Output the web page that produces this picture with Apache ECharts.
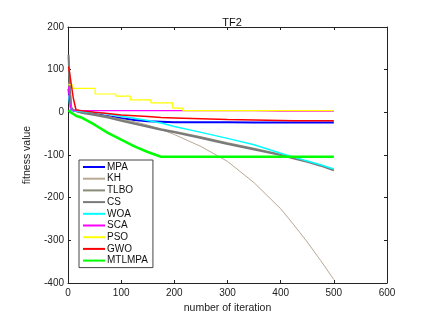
<!DOCTYPE html>
<html>
<head>
<meta charset="utf-8">
<script src="https://cdn.jsdelivr.net/npm/echarts@6/dist/echarts.min.js"></script>
<style>
  html, body { margin: 0; padding: 0; background: #fff; }
  #chart { width: 441px; height: 336px; }
</style>
</head>
<body>
<div id="chart"></div>
<script>
// iteration samples shared by the smooth curves
const iters = [1, 3, 6, 10, 15, 25, 50, 75, 100, 125, 150, 175, 200, 250, 300, 350, 400, 425, 450, 475, 500]

const mpa = [55, 30, 6, 4, 3, 1, -4, -9, -14, -18, -21, -22, -23, -23, -23, -24, -24, -24, -24, -24, -24]
const kh = [70, 30, 8, 5, 3, 1, -5, -10, -16, -22, -30, -40, -52, -80, -115, -165, -226, -264, -304, -347, -392]
const tlbo = [130, 60, 10, 5, 3, 0, -4, -10, -18, -25, -32, -39, -45, -58, -72, -85, -99, -107, -115, -124, -135]
const cs = [135, 70, 12, 5, 3, -1, -6, -12, -20, -27, -34, -41, -47, -60, -74, -87, -100, -108, -116, -125, -136]
const woa = [40, 20, 5, 4, 3, 2, 0, -4, -9, -14, -19, -25, -33, -47, -61, -76, -96, -105, -114, -123, -133]
const sca = [60, 25, 6, 5, 4, 4, 4, 4, 4, 4, 4, 4, 4, 4, 4, 4, 3, 3, 3, 3, 3]
const gwo = [107, 92, 67, 33, 6, 4, 0, -3, -6, -8, -10, -12, -13, -15, -17, -18, -19, -19.5, -20, -20, -20]
const mtlmpa = [5, 2, -1, -4, -8, -12, -29, -48, -64, -80, -93, -104, -104, -104, -104, -104, -104, -104, -104, -104, -104]

// PSO is a staircase (best-so-far), own sample points
const psoIters = [1, 8, 51, 90, 117, 156, 197, 216, 500]
const pso = [65, 56, 43, 38, 29, 22, 10, 4, 3]

const xTicks = [0, 100, 200, 300, 400, 500, 600]
const yTicks = [-400, -300, -200, -100, 0, 100, 200]

const FONT = '"Liberation Sans", Arial, Helvetica, sans-serif'

function pairs(xs, ys) {
  return xs.map((x, i) => [x, ys[i]])
}

function line(name, xs, ys, color, width, extra) {
  return Object.assign({
    name,
    type: 'line',
    data: pairs(xs, ys),
    symbol: 'none',
    smooth: false,
    animation: false,
    lineStyle: { color, width },
    itemStyle: { color },
  }, extra || {})
}

const axisCommon = {
  type: 'value',
  axisLine: { show: true, onZero: false, lineStyle: { color: '#222', width: 1 } },
  axisTick: { show: true, inside: true, length: 3, lineStyle: { color: '#222' } },
  splitLine: { show: false },
}

const chart = echarts.init(document.getElementById('chart'), null, { renderer: 'canvas' })

chart.setOption({
  backgroundColor: '#fff',
  animation: false,
  textStyle: { fontFamily: FONT },
  title: {
    text: 'TF2',
    left: 227,
    top: 12,
    textAlign: 'center',
    textStyle: { fontFamily: FONT, fontSize: 11, fontWeight: 'normal', color: '#111' },
  },
  grid: { left: 68, right: 54, top: 27, bottom: 53, containLabel: false },
  xAxis: [
    Object.assign({}, axisCommon, {
      position: 'bottom',
      min: xTicks[0],
      max: xTicks[xTicks.length - 1],
      interval: 100,
      name: 'number of iteration',
      nameLocation: 'middle',
      nameGap: 19,
      nameTextStyle: { fontFamily: FONT, fontSize: 10.5, color: '#222' },
      axisLabel: { color: '#222', fontSize: 10, margin: 5, fontFamily: FONT },
    }),
    Object.assign({}, axisCommon, {
      position: 'top',
      min: xTicks[0],
      max: xTicks[xTicks.length - 1],
      interval: 100,
      axisLabel: { show: false },
    }),
  ],
  yAxis: [
    Object.assign({}, axisCommon, {
      position: 'left',
      min: yTicks[0],
      max: yTicks[yTicks.length - 1],
      interval: 100,
      name: 'fitness value',
      nameLocation: 'middle',
      nameGap: 26,
      nameTextStyle: { fontFamily: FONT, fontSize: 10.5, color: '#222' },
      axisLabel: { color: '#222', fontSize: 10, margin: 4, fontFamily: FONT },
    }),
    Object.assign({}, axisCommon, {
      position: 'right',
      min: yTicks[0],
      max: yTicks[yTicks.length - 1],
      interval: 100,
      axisLabel: { show: false },
    }),
  ],
  legend: {
    orient: 'vertical',
    left: 79,
    top: 160,
    itemWidth: 22,
    itemHeight: 10,
    itemGap: 1.7,
    padding: [2, 5, 2, 3],
    backgroundColor: '#fff',
    borderColor: '#444',
    borderWidth: 1,
    borderRadius: 0,
    itemStyle: { opacity: 0 },
    textStyle: { fontFamily: FONT, fontSize: 10, color: '#111', padding: [0, 0, 0, -3] },
    data: ['MPA', 'KH', 'TLBO', 'CS', 'WOA', 'SCA', 'PSO', 'GWO', 'MTLMPA'],
  },
  series: [
    line('MPA', iters, mpa, '#0000ff', 2),
    line('KH', iters, kh, '#b8a994', 1),
    line('TLBO', iters, tlbo, '#8a8a78', 1.5),
    line('CS', iters, cs, '#7a7a7a', 2),
    line('WOA', iters, woa, '#00ffff', 1.5),
    line('SCA', iters, sca, '#ff00ff', 1.2),
    line('PSO', psoIters, pso, '#ffff00', 1.2, { step: 'end' }),
    line('GWO', iters, gwo, '#ff0000', 1.5),
    line('MTLMPA', iters, mtlmpa, '#00ff00', 2.5),
  ],
})
</script>
</body>
</html>
